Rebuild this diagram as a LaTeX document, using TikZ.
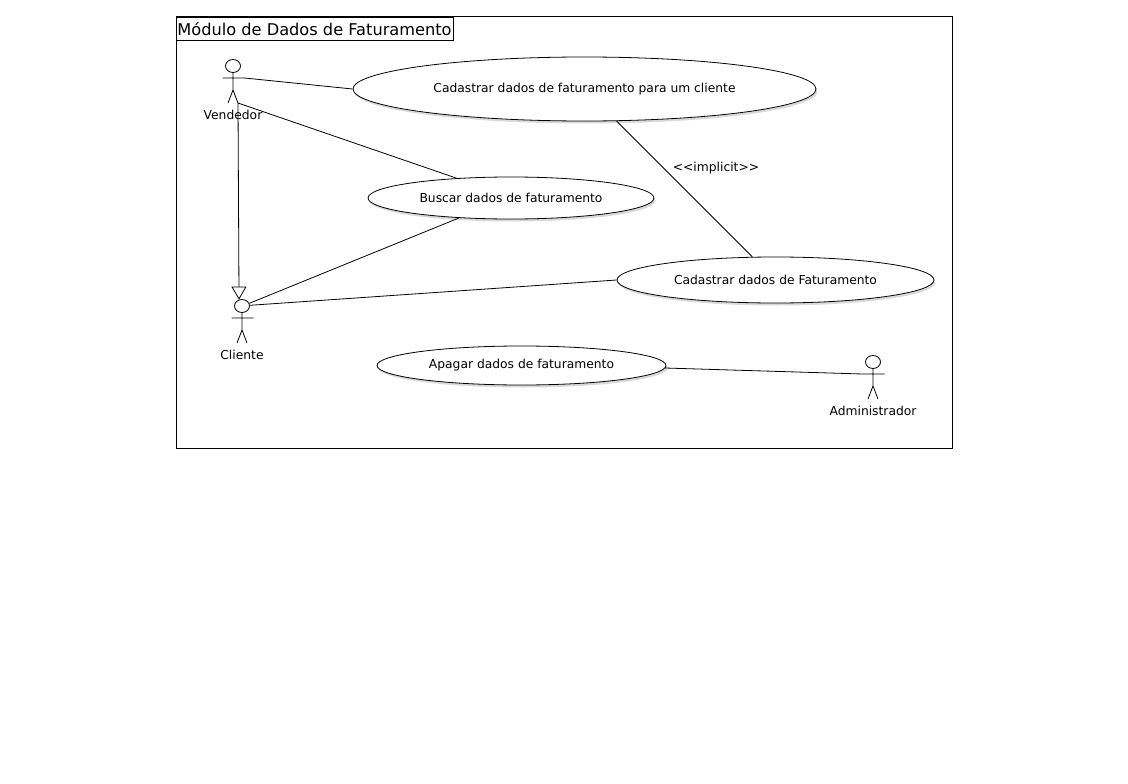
\documentclass[tikz,border=0pt]{standalone}
\usepackage{fontspec}
\setmainfont{DejaVu Sans}
\usetikzlibrary{arrows.meta,shadows,shapes.geometric}
\tikzset{
	usecase/.style={draw, ellipse, inner sep=0pt, font=\fontsize{12.3}{14}\selectfont, fill=white, drop shadow={shadow xshift=1.5, shadow yshift=2.5, opacity=0.3}},
	actorlabel/.style={font=\fontsize{12.3}{14}\selectfont},
	head/.style={draw, ellipse, inner sep=0pt, minimum width=15, minimum height=13},
	inherits/.style={-{Triangle[open, length=13, width=15, fill=white]}}
}
% name, x, y of head, label
\def\actor#1(#2,#3)#4{
	\node[head] (#1) at (#2, #3) {};
	\coordinate (#1-neck) at (#2, #3+6.5);
	\coordinate (#1-arml) at (#2-10.5, #3+12);
	\coordinate (#1-armr) at (#2+11.5, #3+12);
	\coordinate (#1-hip) at (#2, #3+24);
	\coordinate (#1-legl) at (#2-5, #3+37);
	\coordinate (#1-legr) at (#2+5, #3+37);
	\draw (#1-neck) -- (#1-hip) (#1-arml) -- (#1-armr) (#1-legl) -- (#1-hip) -- (#1-legr);
	\node[actorlabel] (#1-label) at (#2, #3+49) {#4};
}

\begin{document}
\begin{tikzpicture}[x=1pt, y=-1pt, line width=0.8pt]
	\useasboundingbox (0, 0) rectangle (1128, 784);
	
	\node[draw, minimum width=776, minimum height=432, inner sep=0pt] (frame) at (564, 232) {};
	\node[draw, minimum width=277, minimum height=23, inner sep=0pt, text height=14, text depth=0, font=\fontsize{16.2}{18}\selectfont] (title) at (314.5, 28.5) {Módulo de Dados de Faturamento};
	
	\node[usecase, minimum width=463, minimum height=64] (cadcliente) at (584.5, 89) {Cadastrar dados de faturamento para um cliente};
	\node[usecase, minimum width=286, minimum height=42] (buscar) at (511, 198) {Buscar dados de faturamento};
	\node[usecase, minimum width=317, minimum height=46] (cadfat) at (775.5, 280) {Cadastrar dados de Faturamento};
	\node[usecase, minimum width=289, minimum height=39] (apagar) at (521.5, 365.5) {Apagar dados de faturamento};
	
	\actor{vendedor}(233, 66){Vendedor}
	\actor{cliente}(242, 306){Cliente}
	\actor{admin}(873, 362){Administrador}
	
	\draw (vendedor-armr) -- (cadcliente.west);
	\draw (vendedor-legr) -- (buscar.160.7);
	\draw[inherits] (vendedor-legr) -- (cliente.115);
	\draw (cliente.20) -- (buscar.201.6);
	\draw (cliente.5) -- (cadfat.west);
	\draw (cadcliente.315) -- (cadfat.135.6);
	\draw (apagar.-1) -- (admin-arml);
	
	\node[actorlabel] (implicit) at (716, 168) {<{}<implicit>{}>};
\end{tikzpicture}
\end{document}
